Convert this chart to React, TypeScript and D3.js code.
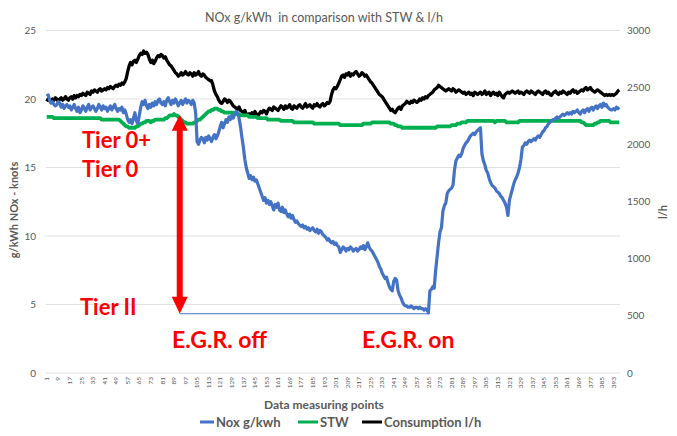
import * as d3 from "d3";

// NOx g/kWh, one value per measuring point (1..397)
const nox: number[] = [
  20.2, 20.3, 19.9, 19.7, 19.8, 19.6, 19.5, 19.6, 19.8, 19.7, 19.4, 19.6, 19.3, 19.5, 19.6, 19.4, 19.5, 19.2, 19.4, 19.6,
  19.3, 19.1, 19.4, 19.0, 19.2, 19.5, 19.3, 19.1, 19.4, 19.6, 19.2, 19.4, 19.5, 19.3, 19.1, 19.3, 19.6, 19.4, 19.2, 19.5,
  19.3, 19.4, 19.1, 19.3, 19.5, 19.2, 19.4, 19.6, 19.3, 19.1, 19.3, 19.2, 19.4, 19.0, 19.2, 18.9, 18.5, 18.3, 18.5, 18.2,
  18.6, 19.0, 18.4, 18.2, 18.8, 19.4, 19.8, 19.6, 19.9, 19.5, 19.3, 19.6, 19.4, 19.7, 19.5, 19.8, 19.6, 19.9, 20.0, 19.7,
  19.6, 19.8, 19.5, 19.9, 20.1, 19.8, 19.6, 19.9, 19.7, 20.0, 19.8, 19.5, 19.7, 19.9, 19.6, 19.8, 20.0, 19.7, 19.9, 19.8,
  19.6, 19.9, 19.7, 19.0, 16.9, 16.7, 17.0, 17.2, 17.1, 16.8, 17.2, 17.0, 17.3, 17.1, 16.9, 17.2, 17.4, 17.1, 17.3, 17.6,
  18.0, 18.3, 17.9, 18.2, 18.5, 18.3, 18.7, 18.5, 18.8, 18.6, 18.9, 19.1, 19.0, 18.6, 18.0, 17.2, 16.5, 15.6, 15.0, 14.6,
  14.2, 14.4, 14.1, 14.3, 14.0, 14.1, 13.8, 13.5, 13.2, 12.9, 12.6, 12.8, 12.4, 12.6, 12.3, 12.5, 12.2, 11.9, 12.3, 12.1,
  12.4, 11.9, 11.8, 12.1, 11.7, 11.9, 11.6, 11.4, 11.6, 11.3, 11.5, 11.2, 11.0, 11.1, 10.9, 10.8, 10.7, 10.8, 10.6, 10.7,
  10.5, 10.6, 10.4, 10.5, 10.6, 10.4, 10.3, 10.5, 10.2, 10.4, 10.3, 10.1, 10.0, 9.9, 9.7, 9.8, 9.6, 9.5, 9.6, 9.4,
  9.5, 9.3, 9.2, 8.8, 9.0, 9.2, 9.1, 8.9, 9.1, 9.0, 9.2, 9.1, 8.9, 9.0, 9.1, 8.9, 9.0, 9.2, 9.1, 9.3,
  9.0, 9.2, 9.5, 9.2, 9.0, 8.9, 8.7, 8.5, 8.3, 8.1, 7.8, 7.6, 7.3, 7.1, 6.9, 7.0, 6.6, 6.3, 6.1, 6.0,
  6.7, 6.9, 6.8, 6.0, 5.7, 5.5, 5.2, 5.0, 4.9, 4.9, 4.8, 4.8, 4.9, 4.8, 4.7, 4.8, 4.8, 4.7, 4.8, 4.7,
  4.7, 4.6, 4.7, 4.6, 4.4, 6.0, 6.1, 6.3, 6.2, 7.5, 8.5, 9.5, 10.3, 10.6, 11.8, 12.2, 12.4, 13.1, 13.3, 13.4,
  13.5, 13.7, 14.8, 15.5, 15.7, 15.9, 15.8, 16.0, 16.4, 16.6, 16.8, 16.9, 17.1, 17.3, 17.4, 17.5, 17.4, 17.6, 17.7, 17.8,
  17.9, 16.0, 15.5, 15.2, 14.8, 14.6, 14.2, 13.9, 13.7, 13.6, 13.5, 13.3, 13.2, 13.1, 12.9, 12.8, 12.6, 12.4, 12.1, 11.5,
  12.6, 13.0, 13.4, 13.8, 14.1, 14.3, 14.6, 15.0, 15.6, 16.5, 16.6, 16.8, 16.7, 16.9, 17.0, 16.9, 17.0, 17.1, 17.0, 17.2,
  17.3, 17.2, 17.4, 17.6, 17.7, 17.9, 18.0, 18.2, 18.3, 18.4, 18.5, 18.5, 18.6, 18.7, 18.6, 18.7, 18.8, 18.9, 18.8, 18.9,
  19.0, 18.9, 19.0, 18.9, 19.1, 19.0, 19.1, 19.2, 19.0, 18.9, 19.1, 19.2, 19.0, 19.2, 19.3, 19.1, 19.3, 19.4, 19.2, 19.4,
  19.5, 19.3, 19.5, 19.6, 19.4, 19.7, 19.5, 19.6, 19.4, 19.3, 19.2, 19.2, 19.3, 19.2, 19.4, 19.3, 19.4,
];

// STW knots
const stw: number[] = [
  18.7, 18.7, 18.7, 18.7, 18.7, 18.6, 18.6, 18.6, 18.6, 18.6, 18.6, 18.6, 18.6, 18.6, 18.6, 18.6, 18.6, 18.6, 18.6, 18.6,
  18.6, 18.6, 18.6, 18.6, 18.6, 18.6, 18.6, 18.6, 18.6, 18.6, 18.6, 18.6, 18.6, 18.6, 18.6, 18.6, 18.6, 18.6, 18.5, 18.5,
  18.5, 18.5, 18.5, 18.5, 18.5, 18.5, 18.5, 18.5, 18.5, 18.5, 18.5, 18.4, 18.3, 18.2, 18.1, 18.0, 18.0, 17.9, 17.9, 17.9,
  17.9, 17.9, 18.0, 18.0, 18.1, 18.2, 18.2, 18.3, 18.3, 18.4, 18.4, 18.4, 18.3, 18.4, 18.4, 18.5, 18.5, 18.5, 18.5, 18.5,
  18.5, 18.5, 18.6, 18.6, 18.7, 18.8, 18.8, 18.8, 18.9, 18.8, 18.8, 18.7, 18.6, 18.5, 18.4, 18.3, 18.3, 18.2, 18.2, 18.2,
  18.2, 18.2, 18.3, 18.3, 18.4, 18.5, 18.5, 18.6, 18.7, 18.8, 18.9, 19.0, 19.1, 19.1, 19.2, 19.2, 19.3, 19.3, 19.3, 19.2,
  19.2, 19.1, 19.1, 19.0, 19.0, 19.0, 19.0, 19.0, 19.0, 19.0, 18.9, 18.9, 18.9, 18.9, 18.8, 18.8, 18.8, 18.8, 18.8, 18.8,
  18.7, 18.7, 18.7, 18.7, 18.7, 18.7, 18.6, 18.6, 18.6, 18.6, 18.6, 18.6, 18.6, 18.5, 18.5, 18.5, 18.5, 18.5, 18.5, 18.5,
  18.5, 18.5, 18.4, 18.4, 18.4, 18.4, 18.4, 18.4, 18.4, 18.4, 18.4, 18.3, 18.3, 18.3, 18.3, 18.3, 18.3, 18.3, 18.3, 18.3,
  18.3, 18.3, 18.3, 18.3, 18.3, 18.2, 18.2, 18.2, 18.2, 18.2, 18.2, 18.2, 18.2, 18.2, 18.2, 18.2, 18.2, 18.2, 18.2, 18.2,
  18.2, 18.2, 18.2, 18.1, 18.1, 18.1, 18.1, 18.1, 18.1, 18.1, 18.1, 18.1, 18.1, 18.1, 18.1, 18.1, 18.1, 18.1, 18.1, 18.2,
  18.2, 18.2, 18.2, 18.2, 18.2, 18.3, 18.3, 18.3, 18.3, 18.3, 18.3, 18.3, 18.3, 18.3, 18.3, 18.3, 18.3, 18.3, 18.2, 18.2,
  18.2, 18.1, 18.1, 18.0, 18.0, 18.0, 17.9, 17.9, 17.9, 17.9, 17.9, 17.9, 17.9, 17.9, 17.9, 17.9, 17.9, 17.9, 17.9, 17.9,
  17.9, 17.9, 17.9, 17.9, 17.9, 17.9, 17.9, 17.9, 17.9, 17.9, 18.0, 18.0, 18.0, 18.0, 18.0, 18.0, 18.0, 18.0, 18.0, 18.0,
  18.1, 18.1, 18.1, 18.1, 18.2, 18.2, 18.2, 18.3, 18.3, 18.3, 18.3, 18.4, 18.4, 18.4, 18.4, 18.4, 18.4, 18.4, 18.4, 18.4,
  18.4, 18.4, 18.4, 18.4, 18.4, 18.4, 18.4, 18.4, 18.4, 18.4, 18.3, 18.4, 18.4, 18.4, 18.4, 18.4, 18.4, 18.4, 18.3, 18.3,
  18.3, 18.3, 18.3, 18.3, 18.3, 18.3, 18.3, 18.4, 18.4, 18.4, 18.4, 18.4, 18.4, 18.4, 18.4, 18.4, 18.4, 18.4, 18.4, 18.4,
  18.4, 18.4, 18.4, 18.4, 18.4, 18.4, 18.4, 18.4, 18.4, 18.4, 18.4, 18.4, 18.4, 18.4, 18.4, 18.4, 18.4, 18.4, 18.4, 18.4,
  18.4, 18.4, 18.4, 18.4, 18.4, 18.4, 18.4, 18.4, 18.4, 18.4, 18.3, 18.3, 18.2, 18.1, 18.1, 18.1, 18.1, 18.1, 18.1, 18.2,
  18.2, 18.3, 18.3, 18.4, 18.4, 18.4, 18.4, 18.4, 18.4, 18.4, 18.3, 18.3, 18.3, 18.3, 18.3, 18.3, 18.3,
];

// Consumption l/h (right axis)
const consumption: number[] = [
  2380, 2400, 2390, 2370, 2400, 2390, 2410, 2400, 2380, 2400, 2410, 2390, 2400, 2420, 2400, 2390, 2410, 2420, 2400, 2430,
  2410, 2430, 2420, 2440, 2430, 2450, 2440, 2430, 2460, 2450, 2440, 2470, 2460, 2480, 2470, 2460, 2480, 2490, 2470, 2480,
  2490, 2480, 2500, 2490, 2510, 2500, 2490, 2510, 2520, 2510, 2530, 2520, 2540, 2530, 2550, 2580, 2640, 2690, 2720, 2700,
  2730, 2740, 2720, 2750, 2780, 2800, 2790, 2820, 2800, 2810, 2790, 2750, 2720, 2740, 2710, 2730, 2760, 2780, 2770, 2790,
  2780, 2760, 2770, 2740, 2720, 2700, 2690, 2670, 2650, 2630, 2620, 2600, 2610, 2630, 2610, 2620, 2640, 2620, 2610, 2630,
  2620, 2600, 2630, 2610, 2620, 2640, 2610, 2600, 2620, 2610, 2590, 2580, 2570, 2560, 2560, 2520, 2470, 2440, 2420, 2390,
  2370, 2360, 2380, 2400, 2390, 2370, 2390, 2380, 2360, 2340, 2330, 2320, 2310, 2330, 2300, 2290, 2280, 2300, 2270, 2260,
  2270, 2250, 2280, 2260, 2290, 2270, 2250, 2270, 2290, 2280, 2300, 2290, 2270, 2300, 2320, 2310, 2300, 2330, 2320, 2310,
  2300, 2320, 2340, 2330, 2310, 2340, 2320, 2330, 2350, 2320, 2310, 2340, 2330, 2320, 2340, 2350, 2330, 2320, 2340, 2360,
  2330, 2340, 2350, 2330, 2320, 2350, 2340, 2360, 2340, 2330, 2350, 2360, 2340, 2350, 2370, 2360, 2380, 2440, 2480, 2500,
  2490, 2510, 2540, 2570, 2600, 2610, 2590, 2620, 2610, 2630, 2600, 2620, 2610, 2630, 2640, 2620, 2600, 2610, 2630, 2620,
  2600, 2610, 2590, 2570, 2550, 2540, 2520, 2500, 2480, 2460, 2440, 2430, 2420, 2400, 2380, 2360, 2340, 2320, 2300, 2310,
  2290, 2280, 2300, 2320, 2330, 2310, 2340, 2350, 2360, 2380, 2370, 2360, 2380, 2370, 2390, 2380, 2370, 2380, 2400, 2390,
  2410, 2400, 2420, 2410, 2430, 2440, 2450, 2460, 2480, 2490, 2500, 2520, 2510, 2500, 2490, 2480, 2470, 2480, 2490, 2480,
  2470, 2490, 2480, 2460, 2470, 2480, 2470, 2460, 2450, 2460, 2440, 2450, 2460, 2440, 2450, 2430, 2460, 2450, 2440, 2450,
  2460, 2440, 2450, 2470, 2440, 2450, 2460, 2430, 2450, 2460, 2440, 2450, 2430, 2460, 2440, 2420, 2410, 2440, 2450, 2460,
  2450, 2460, 2470, 2460, 2450, 2460, 2470, 2450, 2460, 2450, 2440, 2460, 2470, 2460, 2450, 2470, 2460, 2450, 2440, 2460,
  2470, 2460, 2450, 2440, 2460, 2470, 2450, 2460, 2440, 2430, 2450, 2460, 2470, 2450, 2440, 2460, 2450, 2470, 2460, 2450,
  2440, 2460, 2450, 2470, 2480, 2460, 2470, 2450, 2460, 2470, 2480, 2470, 2490, 2500, 2480, 2490, 2500, 2480, 2470, 2460,
  2470, 2480, 2470, 2460, 2450, 2440, 2430, 2440, 2430, 2440, 2430, 2440, 2430, 2440, 2450, 2470, 2480,
];

const points = nox.map((_, i) => String(i + 1));
const leftTicks = [0, 5, 10, 15, 20, 25];
const rightTicks = [0, 500, 1000, 1500, 2000, 2500, 3000];
const egrOffPoint = "93";
const egrOnPoint = "266";
const tierIIValue = 4.4;
const tierTopValue = 19.0;

const W = 677;
const H = 436;
const font = "Lato, 'Open Sans', sans-serif";
const grey = "#595959";
const red = "#ff0000";

export default function App() {
  const x = d3.scaleBand().domain(points).range([46, 620]);
  const y = d3.scaleLinear().domain([0, 25]).range([373, 30.5]);
  const y2 = d3.scaleLinear().domain([0, 3000]).range([373, 30.5]);
  const cx = (p: string) => (x(p) ?? 0) + x.bandwidth() / 2;

  const lineL = d3
    .line<number>()
    .x((_, i) => cx(points[i]))
    .y((d) => y(d));
  const lineR = d3
    .line<number>()
    .x((_, i) => cx(points[i]))
    .y((d) => y2(d));

  const ax = cx(egrOffPoint);
  const yTop = y(tierTopValue) + 2;
  const yBot = y(tierIIValue) + 1;

  return (
    <svg
      width={W}
      height={H}
      style={{ position: "absolute", left: 0, top: 0 }}
      fontFamily={font}
    >
      <rect width={W} height={H} fill="white" />
      <text x={324} y={22} textAnchor="middle" fontSize={12.5} fill={grey}>
        NOx g/kWh{"\u00a0\u00a0"}in comparison with STW &amp; l/h
      </text>

      {leftTicks.map((t) => (
        <g key={t}>
          <line x1={46} x2={620} y1={y(t)} y2={y(t)} stroke="#d9d9d9" strokeWidth={0.8} />
          <text x={36} y={y(t) + 3.5} textAnchor="end" fontSize={10} fill={grey}>
            {t}
          </text>
        </g>
      ))}
      {rightTicks.map((t) => (
        <text key={t} x={627} y={y2(t) + 3.5} fontSize={10} fill={grey}>
          {t}
        </text>
      ))}

      {points
        .filter((_, i) => i % 8 === 0)
        .map((p) => (
          <text
            key={p}
            transform={`translate(${cx(p) + 2.2},${377}) rotate(-90)`}
            textAnchor="end"
            fontSize={6.5}
            fill={grey}
          >
            {p}
          </text>
        ))}

      <text
        transform="translate(18,210) rotate(-90)"
        textAnchor="middle"
        fontSize={11}
        fontWeight="bold"
        fill={grey}
      >
        g/kWh NOx - knots
      </text>
      <text
        transform="translate(667,212) rotate(-90)"
        textAnchor="middle"
        fontSize={11}
        fontWeight="bold"
        fill={grey}
      >
        l/h
      </text>
      <text x={324} y={409} textAnchor="middle" fontSize={12} fontWeight="bold" fill={grey}>
        Data measuring points
      </text>

      <path d={lineR(consumption) ?? ""} fill="none" stroke="#000000" strokeWidth={3.3} strokeLinejoin="round" />
      <path d={lineL(stw) ?? ""} fill="none" stroke="#00b050" strokeWidth={3.8} strokeLinejoin="round" />
      <path d={lineL(nox) ?? ""} fill="none" stroke="#4472c4" strokeWidth={3.2} strokeLinejoin="round" />

      {/* E.G.R. off → on reference line */}
      <line x1={ax} x2={cx(egrOnPoint)} y1={yBot} y2={yBot} stroke="#4472c4" strokeWidth={1} />

      {/* red double arrow */}
      <line x1={ax} x2={ax} y1={yTop + 12} y2={yBot - 14} stroke={red} strokeWidth={6} />
      <path d={`M${ax},${yTop} L${ax - 8},${yTop + 16} L${ax + 8},${yTop + 16} Z`} fill={red} />
      <path d={`M${ax},${yBot} L${ax - 8},${yBot - 17} L${ax + 8},${yBot - 17} Z`} fill={red} />

      <g fill={red} fontWeight="bold" fontSize={22}>
        <text x={82} y={148}>Tier 0+</text>
        <text x={82} y={177}>Tier 0</text>
        <text x={80} y={315}>Tier II</text>
        <text x={172} y={348} fontSize={23}>E.G.R. off</text>
        <text x={362} y={348} fontSize={23}>E.G.R. on</text>
      </g>

      <g fontSize={13} fontWeight="bold" fill={grey}>
        <line x1={200} x2={214} y1={422} y2={422} stroke="#4472c4" strokeWidth={3} />
        <text x={216} y={427}>Nox g/kwh</text>
        <line x1={298} x2={318} y1={422} y2={422} stroke="#00b050" strokeWidth={3} />
        <text x={320} y={427}>STW</text>
        <line x1={362} x2={382} y1={422} y2={422} stroke="#000000" strokeWidth={3} />
        <text x={384} y={427}>Consumption l/h</text>
      </g>
    </svg>
  );
}
